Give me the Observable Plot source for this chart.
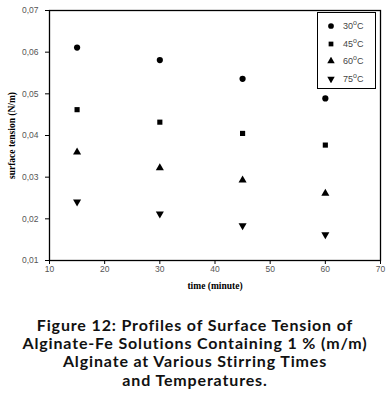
<!DOCTYPE html>
<html><head><meta charset="utf-8">
<script src="https://cdn.jsdelivr.net/npm/d3@7"></script>
<script src="https://cdn.jsdelivr.net/npm/@observablehq/plot@0.6"></script>
<style>
body{margin:0;background:#fff;width:390px;overflow:hidden}
#chart{position:relative;width:390px;height:305px}
#chart svg{display:block}
g[aria-label="x-axis tick label"] text, g[aria-label="y-axis tick label"] text{fill:#555;font-family:"Liberation Sans",Arial,sans-serif;font-size:8.5px}
g[aria-label="x-axis label"] text, g[aria-label="y-axis label"] text{fill:#000;font-family:"Liberation Serif",serif;font-weight:bold;font-size:9.5px}
#legend{position:absolute;left:317px;top:12px;width:59px;height:77px;border:1px solid #000;box-sizing:border-box;background:#fff;font-family:"Liberation Sans",Arial,sans-serif;font-size:9px;color:#444}
#legend .row{position:absolute;left:0;width:100%;height:14px;display:flex;align-items:center}
#legend svg{margin-left:9px;margin-right:8px}
#legend sup{font-size:7px;vertical-align:4px;line-height:0}
#caption{text-align:center;font-family:Lato,"Open Sans",sans-serif;font-weight:bold;font-size:16px;letter-spacing:0.85px;line-height:18.2px;color:#111;margin-top:11px}
</style>
</head><body>
<div id="chart"></div>
<div id="caption">Figure 12: Profiles of Surface Tension of<br>Alginate-Fe Solutions Containing 1 % (m/m)<br>Alginate at Various Stirring Times<br>and Temperatures.</div>
<script>
const times = [15, 30, 45, 60];
const seriesNames = ["30", "45", "60", "75"];
const t30 = [0.0611, 0.0581, 0.0536, 0.0489];
const t45 = [0.0462, 0.0432, 0.0405, 0.0377];
const t60 = [0.0360, 0.0322, 0.0293, 0.0261];
const t75 = [0.0241, 0.0212, 0.0184, 0.0162];
const xTicks = [10, 20, 30, 40, 50, 60, 70];
const yTicks = [0.01, 0.02, 0.03, 0.04, 0.05, 0.06, 0.07];

const triDown = {draw(ctx, size) {
  const s3 = Math.sqrt(3);
  const y = -Math.sqrt(size / (s3 * 3));
  ctx.moveTo(0, -y * 2); ctx.lineTo(-s3 * y, y); ctx.lineTo(s3 * y, y); ctx.closePath();
}};
const symbols = [d3.symbolCircle, d3.symbolSquare, d3.symbolTriangle, triDown];
const radii = [3.1, 2.9, 3.0, 3.0];
const values = [t30, t45, t60, t75];

const dotMarks = values.map((vals, i) =>
  Plot.dot(times.map((t, j) => ({time: t, v: vals[j]})), {
    x: "time", y: "v", symbol: symbols[i], r: radii[i], fill: "#000", stroke: "none"
  })
);

const plot = Plot.plot({
  width: 390, height: 305,
  marginLeft: 49, marginRight: 10, marginTop: 10, marginBottom: 45,
  style: {background: "#fff", overflow: "visible"},
  x: {domain: [10, 70]},
  y: {domain: [0.01, 0.07]},
  marks: [
    Plot.frame({stroke: "#000", strokeWidth: 1.3}),
    Plot.axisY({ticks: yTicks, tickSize: 4, tickPadding: 7, tickFormat: d => d.toFixed(2).replace(".", ","),
      label: "surface tension (N/m)", labelAnchor: "center", labelArrow: "none", labelOffset: 41, stroke: "#000"}),
    Plot.axisX({ticks: xTicks, tickSize: 4, tickPadding: 1, tickFormat: d => String(d),
      label: "time (minute)", labelAnchor: "center", labelArrow: "none", labelOffset: 28, stroke: "#000"}),
    ...dotMarks
  ]
});
const chart = document.getElementById("chart");
chart.appendChild(plot);

const legend = document.createElement("div");
legend.id = "legend";
seriesNames.forEach((name, i) => {
  const row = document.createElement("div");
  row.className = "row";
  row.style.top = (6 + i * 17.5) + "px";
  const svg = d3.create("svg").attr("width", 8).attr("height", 8);
  svg.append("path").attr("transform", "translate(4,4)")
    .attr("d", d3.symbol(symbols[i], Math.PI * radii[i] * radii[i] * 0.85)()).attr("fill", "#000");
  row.appendChild(svg.node());
  const span = document.createElement("span");
  span.innerHTML = name + "<sup>o</sup>C";
  row.appendChild(span);
  legend.appendChild(row);
});
chart.appendChild(legend);
</script>
</body></html>
